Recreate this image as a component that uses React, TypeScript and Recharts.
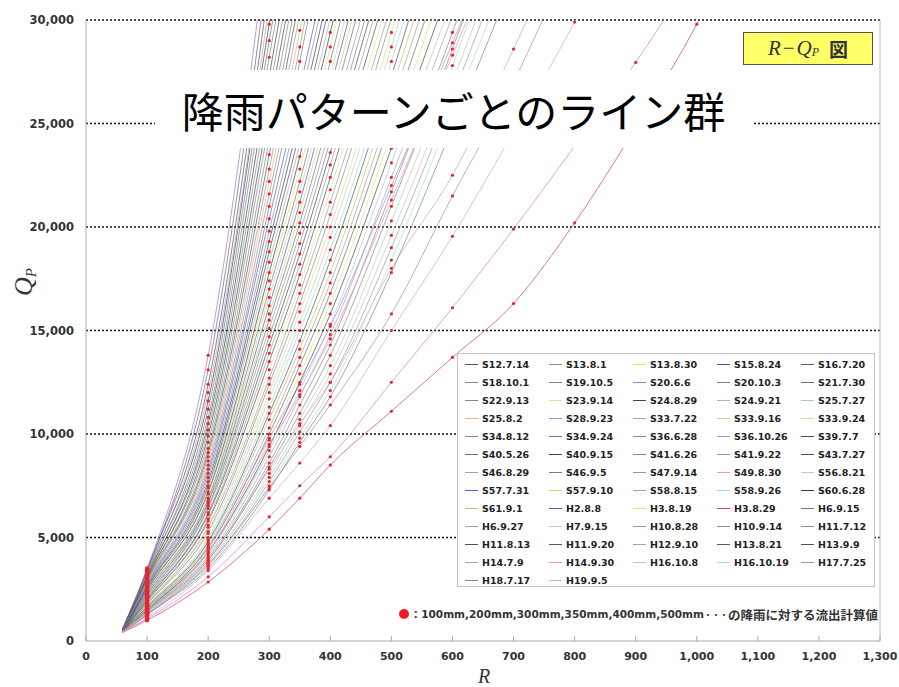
import { CartesianGrid, Line, LineChart, ReferenceLine, XAxis, YAxis } from "recharts";

// rainfall R (mm) at which each pattern's runoff was computed
const rainfall = [60, 100, 200, 300, 350, 400, 500, 600, 700, 800, 900, 1000, 1100];

const rainTicks = [0, 100, 200, 300, 400, 500, 600, 700, 800, 900, 1000, 1100, 1200, 1300];
const peakTicks = [0, 5000, 10000, 15000, 20000, 25000, 30000];
const gridValues = [5000, 10000, 15000, 20000, 25000, 30000];

const patternNames = [
  "S12.7.14", "S13.8.1", "S13.8.30", "S15.8.24", "S16.7.20",
  "S18.10.1", "S19.10.5", "S20.6.6", "S20.10.3", "S21.7.30",
  "S22.9.13", "S23.9.14", "S24.8.29", "S24.9.21", "S25.7.27",
  "S25.8.2", "S28.9.23", "S33.7.22", "S33.9.16", "S33.9.24",
  "S34.8.12", "S34.9.24", "S36.6.28", "S36.10.26", "S39.7.7",
  "S40.5.26", "S40.9.15", "S41.6.26", "S41.9.22", "S43.7.27",
  "S46.8.29", "S46.9.5", "S47.9.14", "S49.8.30", "S56.8.21",
  "S57.7.31", "S57.9.10", "S58.8.15", "S58.9.26", "S60.6.28",
  "S61.9.1", "H2.8.8", "H3.8.19", "H3.8.29", "H6.9.15",
  "H6.9.27", "H7.9.15", "H10.8.28", "H10.9.14", "H11.7.12",
  "H11.8.13", "H11.9.20", "H12.9.10", "H13.8.21", "H13.9.9",
  "H14.7.9", "H14.9.30", "H16.10.8", "H16.10.19", "H17.7.25",
  "H18.7.17", "H19.9.5",
];

const patternColors = [
  "#4a5560", "#8c8c8c", "#e2dc84", "#505a64", "#5c5c5c",
  "#7d8a8a", "#6f8f8f", "#b070d8", "#808080", "#707070",
  "#7a9080", "#e4e09a", "#3d4650", "#b0b0b0", "#a8c8e8",
  "#f0b080", "#a090e0", "#d890d0", "#c4d89a", "#e0dc88",
  "#888888", "#787878", "#8a9494", "#a0a0a0", "#4c4c4c",
  "#6a7070", "#404850", "#8a8a8a", "#9a9a9a", "#4a4a4a",
  "#9aa0a0", "#7a7a7a", "#989898", "#e0a0b8", "#b0d8b0",
  "#6a5ae0", "#dcd460", "#d080e0", "#90dede", "#3a4048",
  "#c4c470", "#4a5ad0", "#e6de80", "#d84070", "#707878",
  "#a0a0a0", "#c8c8c8", "#989c9c", "#909090", "#8c8c8c",
  "#505050", "#585858", "#a4a4a4", "#5a5a5a", "#4e4e4e",
  "#a8a8a8", "#f090c0", "#c4c4c4", "#a8e0d8", "#b09090",
  "#808888", "#e0a0d8",
];

// peak runoff Qp per pattern, one value per entry of `rainfall`
const runoff: number[][] = [
  [520, 2550, 7500, 18800, 24600, 30900],
  [560, 3150, 10200, 26500, 34600],
  [510, 2400, 7100, 17400, 22800, 28700, 41000],
  [580, 3450, 12400, 31800],
  [540, 2900, 9100, 23500, 31100],
  [480, 2050, 6200, 14700, 19200, 24200, 34600],
  [560, 3250, 10800, 28200, 36500],
  [600, 3500, 13800, 34500],
  [540, 2750, 8300, 21000, 28000, 35600],
  [450, 1550, 4500, 10000, 13300, 16800, 25200, 34000],
  [560, 3050, 9600, 25000, 32800],
  [480, 1850, 5600, 13100, 17200, 21800, 31500],
  [580, 3350, 11600, 29800, 38500],
  [510, 2500, 7400, 18300, 24000, 30100],
  [440, 1480, 4200, 9200, 12100, 15300, 23100, 31000],
  [540, 2950, 8700, 22200, 29500, 37500],
  [470, 1450, 4500, 9800, 12400, 15200, 22000, 28900, 36000],
  [590, 3300, 12000, 30800],
  [510, 2300, 6800, 16600, 21700, 27300, 39000],
  [470, 1750, 5200, 12000, 15900, 20000, 29400, 40000],
  [550, 2950, 9300, 24200, 31900],
  [570, 3200, 11200, 29000, 37500],
  [520, 2650, 7900, 19800, 26000, 32500],
  [480, 1950, 5900, 13900, 18200, 23000, 33000],
  [550, 3000, 9900, 25700, 33700],
  [590, 3400, 13100, 33000],
  [530, 2600, 7700, 19300, 25300, 31700],
  [420, 1420, 4000, 8600, 11400, 14300, 21700, 29400, 38000],
  [550, 2850, 8900, 22800, 30300],
  [570, 3100, 10500, 27300, 35600],
  [470, 1800, 5500, 12700, 16800, 21200, 30800],
  [500, 2350, 6900, 17000, 22200, 28000, 40000],
  [530, 2800, 8500, 21600, 28700, 36500],
  [450, 1300, 3900, 8300, 10500, 12500, 18000, 22500, 28600, 35000],
  [420, 1380, 3800, 8100, 10700, 13300, 20300, 27800, 36000],
  [530, 2700, 8100, 20400, 26700, 33300],
  [490, 2200, 6600, 15800, 20700, 26100, 37200],
  [430, 1080, 3100, 6000, 7500, 8900, 12500, 16100, 19900, 23900, 27950, 32500],
  [450, 1680, 4900, 11300, 15000, 18900, 28000, 38000],
  [520, 2450, 7200, 17800, 23400, 29400, 42000],
  [450, 1600, 4700, 10700, 14100, 17800, 26600, 36000],
  [500, 2250, 6700, 16200, 21200, 26700, 38000],
  [440, 1520, 4400, 9700, 12900, 16300, 24500, 33000],
  [420, 1000, 2850, 5400, 6900, 8500, 11100, 13700, 16300, 20200, 24800, 29800, 36000],
  [500, 2150, 6500, 15500, 20200, 25500, 36400],
  [420, 1330, 3650, 7700, 10100, 12500, 19000, 26300, 34000],
  [460, 1700, 5000, 11700, 15400, 19500, 28700, 39000],
  [490, 2100, 6400, 15100, 19700, 24800, 35400],
  [460, 1780, 5300, 12400, 16300, 20600, 30100],
  [430, 1400, 3900, 8400, 11000, 13800, 21000, 28600, 37000],
  [490, 2000, 6100, 14300, 18700, 23600, 33800],
  [470, 1900, 5800, 13500, 17700, 22400, 32200],
  [440, 1580, 4600, 10300, 13700, 17300, 25900, 35000],
  [460, 1650, 4800, 11000, 14500, 18400, 27300, 37000],
  [430, 1500, 4300, 9400, 12500, 15800, 23800, 32000],
  [430, 1450, 4100, 8900, 11800, 14800, 22400, 30200],
  [460, 1400, 4300, 9500, 11900, 14600, 21300, 28300, 35500],
  [430, 1350, 3750, 7900, 10400, 12900, 19600, 27000, 35000],
  [410, 1300, 3600, 7500, 9800, 12100, 18400, 25600, 33000],
  [440, 1250, 3700, 7400, 9400, 11400, 15800, 21500, 27000, 33500],
  [420, 1280, 3500, 7300, 9600, 11800, 17800, 24800, 32000],
  [440, 1150, 3400, 6900, 8600, 10400, 15000, 19550, 24600, 29900, 35500],
];

const rows = rainfall.map((r, i) => {
  const row: Record<string, number | null> = { r };
  runoff.forEach((values, k) => {
    row[`p${k}`] = values[i] ?? null;
  });
  return row;
});

const fmt = (v: number) => v.toLocaleString("en-US");

const tickFont = {
  fontFamily: "'DejaVu Sans', sans-serif",
  fontSize: 11,
  fontWeight: 700,
  fill: "#333",
};

const AXIS_GRAY = "#a8a8a8";

function RainTick({ x, y, payload }: any) {
  return (
    <g>
      <line x1={x} x2={x} y1={y - 13} y2={y - 8} stroke={AXIS_GRAY} />
      <text x={x} y={y + 11} textAnchor="middle" {...tickFont}>
        {fmt(payload.value)}
      </text>
    </g>
  );
}

// red markers for the computed runoff; the shared start point gets none
function RunoffDot(props: any) {
  const { cx, cy, payload, value, index, dataKey } = props;
  const k = `${dataKey}-${index}`;
  if (cx == null || cy == null || value == null || payload.r < 100 || value > 30000) {
    return <g key={k} />;
  }
  return <circle key={k} cx={cx} cy={cy} r={payload.r === 100 ? 2.2 : 1.6} fill="#e8242c" />;
}

function PatternLegend() {
  return (
    <div
      style={{
        position: "absolute",
        left: 457,
        top: 353,
        width: 418,
        height: 234,
        boxSizing: "border-box",
        border: "1px solid #c4c4c4",
        background: "#fff",
        padding: "1px 0 0 7px",
        display: "grid",
        gridTemplateColumns: "repeat(5, 84px)",
        gridAutoRows: "18px",
      }}
    >
      {patternNames.map((name, k) => (
        <div key={name} style={{ display: "flex", alignItems: "center" }}>
          <span
            style={{
              width: 13,
              height: 0,
              borderTop: `1.5px solid ${patternColors[k]}`,
              marginRight: 4,
            }}
          />
          <span
            style={{
              fontFamily: "'DejaVu Sans', sans-serif",
              fontSize: 9.5,
              fontWeight: 700,
              color: "#222",
              whiteSpace: "nowrap",
            }}
          >
            {name}
          </span>
        </div>
      ))}
    </div>
  );
}

export default function App() {
  return (
    <div
      style={{
        position: "absolute",
        left: 0,
        top: 0,
        width: 899,
        height: 687,
        background: "#fff",
        overflow: "hidden",
      }}
    >
      <LineChart width={899} height={687} data={rows} margin={{ top: 20, right: 19, bottom: 16, left: 6 }}>
        <CartesianGrid
          horizontal
          vertical={false}
          horizontalValues={gridValues}
          stroke="#111"
          strokeDasharray="2 2"
          strokeWidth={1.4}
        />
        <XAxis
          dataKey="r"
          type="number"
          domain={[0, 1300]}
          ticks={rainTicks}
          interval={0}
          height={30}
          tickSize={6}
          tickMargin={2}
          tickLine={false}
          axisLine={{ stroke: AXIS_GRAY }}
          tick={<RainTick />}
        />
        <YAxis
          type="number"
          domain={[0, 30000]}
          allowDataOverflow
          ticks={peakTicks}
          interval={0}
          width={80}
          tickSize={6}
          tickMargin={6}
          tickLine={false}
          axisLine={{ stroke: AXIS_GRAY }}
          tick={{ ...tickFont, fontSize: 11.5 }}
          tickFormatter={fmt}
        />
        <ReferenceLine x={1300} stroke="#bcbcbc" />
        {patternNames.map((name, k) => (
          <Line
            key={name}
            name={name}
            dataKey={`p${k}`}
            type="monotone"
            stroke={patternColors[k]}
            strokeWidth={1}
            strokeOpacity={0.72}
            dot={RunoffDot}
            activeDot={false}
            isAnimationActive={false}
          />
        ))}
      </LineChart>

      <svg
        width={899}
        height={687}
        style={{ position: "absolute", left: 0, top: 0, pointerEvents: "none" }}
      >
        <text
          transform="translate(32,282) rotate(-90)"
          textAnchor="middle"
          fontFamily="'Liberation Serif', serif"
          fontStyle="italic"
          fontSize={26}
          fill="#333"
        >
          Q
          <tspan fontSize={15} dy={4}>
            P
          </tspan>
        </text>
        <text
          x={484}
          y={683}
          textAnchor="middle"
          fontFamily="'Liberation Serif', serif"
          fontStyle="italic"
          fontSize={20}
          fill="#333"
        >
          R
        </text>
      </svg>

      <PatternLegend />

      <div
        style={{
          position: "absolute",
          right: 21,
          top: 605,
          height: 18,
          display: "flex",
          alignItems: "center",
          whiteSpace: "nowrap",
          color: "#333",
          fontWeight: 700,
        }}
      >
        <span
          style={{
            width: 10,
            height: 10,
            borderRadius: "50%",
            background: "#ee1c24",
            marginRight: 1,
          }}
        />
        <span style={{ fontFamily: "'Noto Sans CJK JP', sans-serif", fontSize: 11 }}>：</span>
        <span style={{ fontFamily: "'DejaVu Sans', sans-serif", fontSize: 10.5 }}>
          100mm,200mm,300mm,350mm,400mm,500mm
        </span>
        <span style={{ fontFamily: "'Noto Sans CJK JP', sans-serif", fontSize: 8 }}>・・・</span>
        <span style={{ fontFamily: "'Noto Sans CJK JP', sans-serif", fontSize: 12.5 }}>
          の降雨に対する流出計算値
        </span>
      </div>

      <div
        style={{
          position: "absolute",
          left: 743,
          top: 32,
          width: 130,
          height: 33,
          boxSizing: "border-box",
          border: "1px solid #555",
          background: "#ffff66",
          display: "flex",
          alignItems: "center",
          justifyContent: "center",
          color: "#333",
        }}
      >
        <span style={{ fontFamily: "'Liberation Serif', serif", fontStyle: "italic", fontSize: 21 }}>R</span>
        <span style={{ fontFamily: "'Liberation Serif', serif", fontSize: 21, margin: "0 2px" }}>−</span>
        <span style={{ fontFamily: "'Liberation Serif', serif", fontStyle: "italic", fontSize: 21 }}>Q</span>
        <span
          style={{
            fontFamily: "'Liberation Serif', serif",
            fontStyle: "italic",
            fontSize: 12,
            position: "relative",
            top: 4,
          }}
        >
          P
        </span>
        <span
          style={{
            fontFamily: "'Noto Sans CJK JP', sans-serif",
            fontWeight: 700,
            fontSize: 19,
            marginLeft: 10,
          }}
        >
          図
        </span>
      </div>

      <div
        style={{
          position: "absolute",
          left: 155,
          top: 70,
          width: 597,
          height: 78,
          background: "#fff",
          display: "flex",
          alignItems: "center",
          justifyContent: "center",
          fontFamily: "'Noto Sans CJK JP', sans-serif",
          fontSize: 42,
          color: "#000",
        }}
      >
        降雨パターンごとのライン群
      </div>
    </div>
  );
}
